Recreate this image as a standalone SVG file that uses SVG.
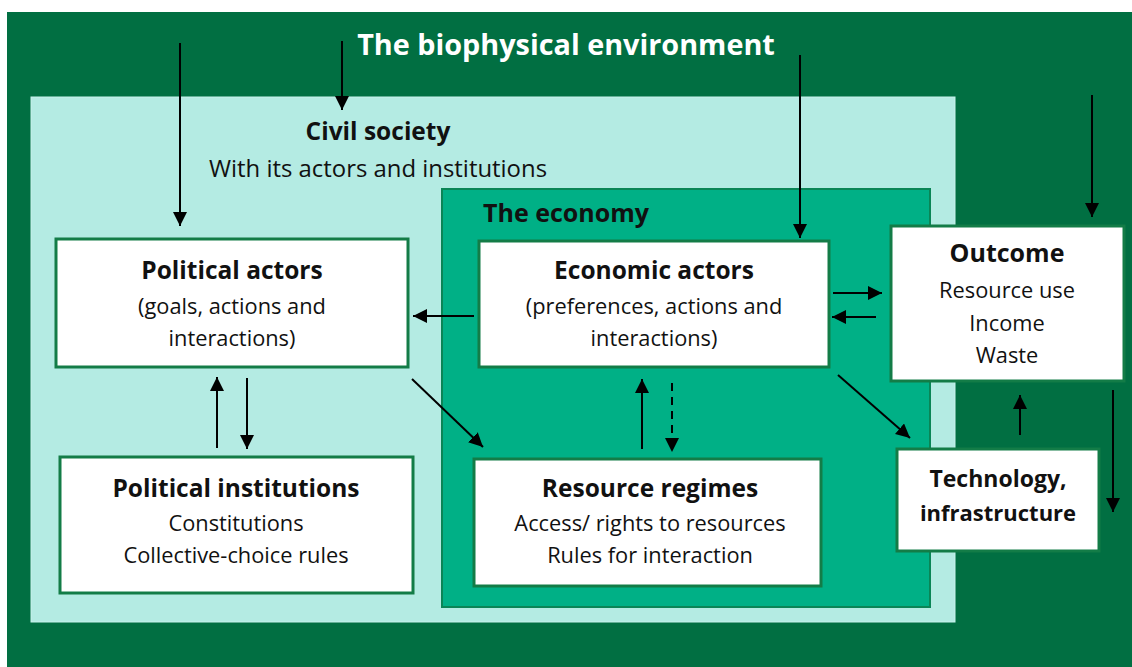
<svg xmlns="http://www.w3.org/2000/svg" width="1132" height="667" viewBox="0 0 1132 667">
  <style>
    text { font-family: "Open Sans", "Liberation Sans", sans-serif; fill: #111; text-anchor: middle; }
    .h { font-weight: bold; font-size: 24.5px; }
    .t { font-size: 21.8px; }
    .box { fill: #ffffff; stroke: #137c47; stroke-width: 3; }
    .arr { stroke: #000; stroke-width: 2; fill: none; marker-end: url(#head); }
    .dash { stroke-dasharray: 8 6; }
  </style>
  <defs>
    <marker id="head" markerUnits="userSpaceOnUse" markerWidth="14" markerHeight="14" refX="14" refY="7" orient="auto">
      <path d="M0,0 L14,7 L0,14 z" fill="#000"/>
    </marker>
  </defs>

  <!-- background layers -->
  <rect x="0" y="0" width="1132" height="667" fill="#ffffff"/>
  <rect id="environment" x="7" y="12" width="1125" height="655" fill="#016f42"/>
  <rect id="civil-society" x="31" y="97" width="924" height="525" fill="#b4ebe3" stroke="#c8f2ec" stroke-width="1"/>
  <rect id="economy" x="442" y="189" width="488" height="418" fill="#00b086" stroke="#0a8556" stroke-width="2"/>

  <text x="566" y="55" style="font-weight:bold;font-size:28.8px;fill:#fff">The biophysical environment</text>
  <text x="378" y="140" class="h">Civil society</text>
  <text x="378" y="177" style="font-size:23.9px">With its actors and institutions</text>
  <text x="483" y="222" class="h" style="text-anchor:start;font-size:25px">The economy</text>

  <g id="political-actors">
    <rect class="box" x="56" y="239" width="352" height="128"/>
    <text x="232" y="279" class="h">Political actors</text>
    <text x="232" y="314" class="t">(goals, actions and</text>
    <text x="232" y="346" class="t">interactions)</text>
  </g>

  <g id="economic-actors">
    <rect class="box" x="479" y="241" width="350" height="126"/>
    <text x="654" y="279" class="h">Economic actors</text>
    <text x="654" y="314" class="t">(preferences, actions and</text>
    <text x="654" y="346" class="t">interactions)</text>
  </g>

  <g id="outcome">
    <rect class="box" x="891" y="226" width="233" height="155"/>
    <text x="1007" y="262" class="h" style="font-size:25px">Outcome</text>
    <text x="1007" y="298" class="t">Resource use</text>
    <text x="1007" y="331" class="t">Income</text>
    <text x="1007" y="363" class="t">Waste</text>
  </g>

  <g id="technology">
    <rect class="box" x="897" y="449" width="202" height="102"/>
    <text x="998" y="487" class="h" style="font-size:23px">Technology,</text>
    <text x="998" y="521" class="h" style="font-size:22px">infrastructure</text>
  </g>

  <g id="political-institutions">
    <rect class="box" x="60" y="457" width="353" height="136"/>
    <text x="236" y="497" class="h">Political institutions</text>
    <text x="236" y="531" class="t">Constitutions</text>
    <text x="236" y="563" class="t">Collective-choice rules</text>
  </g>

  <g id="resource-regimes">
    <rect class="box" x="474" y="459" width="347" height="127"/>
    <text x="650" y="497" class="h">Resource regimes</text>
    <text x="650" y="531" class="t">Access/ rights to resources</text>
    <text x="650" y="563" class="t">Rules for interaction</text>
  </g>

  <g id="connectors">
    <line class="arr" x1="180" y1="43" x2="180" y2="226"/>
    <line class="arr" x1="342" y1="41" x2="342" y2="110"/>
    <line class="arr" x1="800" y1="55" x2="800" y2="238"/>
    <line class="arr" x1="1092" y1="95" x2="1092" y2="217"/>
    <line class="arr" x1="474" y1="316" x2="413" y2="316"/>
    <line class="arr" x1="833" y1="293" x2="882" y2="293"/>
    <line class="arr" x1="876" y1="317" x2="832" y2="317"/>
    <line class="arr" x1="412" y1="379" x2="483" y2="447"/>
    <line class="arr" x1="642" y1="449" x2="642" y2="379"/>
    <line class="arr dash" x1="672" y1="383" x2="672" y2="452"/>
    <line class="arr" x1="838" y1="375" x2="910" y2="438"/>
    <line class="arr" x1="1020" y1="435" x2="1020" y2="395"/>
    <line class="arr" x1="1113" y1="390" x2="1113" y2="512"/>
    <line class="arr" x1="217" y1="448" x2="217" y2="377"/>
    <line class="arr" x1="247" y1="378" x2="247" y2="449"/>
  </g>
</svg>
